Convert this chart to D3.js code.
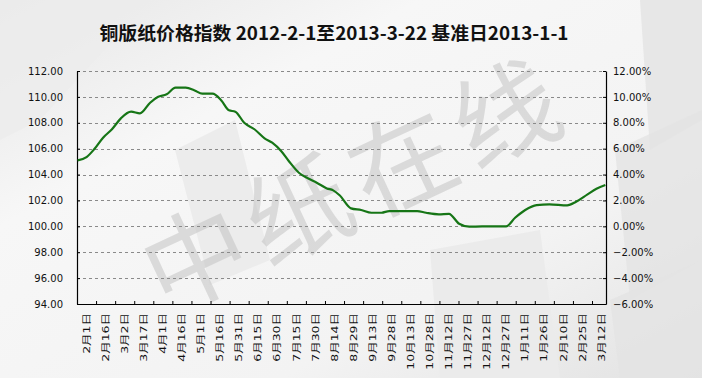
<!DOCTYPE html>
<html>
<head>
<meta charset="utf-8">
<script src="https://cdn.jsdelivr.net/npm/d3@7"></script>
<style>
  html, body { margin: 0; padding: 0; background: #fff; }
  svg { display: block; }
</style>
</head>
<body>
<div id="chart"></div>
<script>
//// data
var title = "铜版纸价格指数 2012-2-1至2013-3-22 基准日2013-1-1";

var dates = ["2012-02-01","2012-02-08","2012-02-14","2012-02-21","2012-02-28","2012-03-06","2012-03-14",
  "2012-03-21","2012-03-29","2012-04-04","2012-04-11","2012-04-18","2012-04-26","2012-05-03","2012-05-09",
  "2012-05-17","2012-05-24","2012-05-30","2012-06-04","2012-06-11","2012-06-19","2012-06-27","2012-07-03",
  "2012-07-10","2012-07-16","2012-07-24","2012-07-31","2012-08-07","2012-08-15","2012-08-20","2012-08-25",
  "2012-09-03","2012-09-11","2012-09-19","2012-09-27","2012-10-03","2012-10-12","2012-10-25","2012-11-01",
  "2012-11-11","2012-11-19","2012-11-27","2012-12-05","2012-12-15","2013-01-03","2013-01-10","2013-01-18",
  "2013-01-27","2013-02-06","2013-02-20","2013-02-27","2013-03-08","2013-03-15","2013-03-22"];
var values = [105.1,105.35,105.95,106.85,107.5,108.34,108.86,
  108.73,109.55,109.99,110.2,110.71,110.71,110.5,110.25,
  110.25,109.73,108.96,108.86,108.0,107.5,106.8,106.46,
  105.82,105.05,104.14,103.71,103.37,102.93,102.78,102.4,
  101.39,101.26,101.05,101.05,101.18,101.18,101.18,101.05,
  100.93,100.97,100.2,99.97,100.0,100.0,100.66,101.26,
  101.64,101.7,101.62,101.9,102.47,102.9,103.19];

var yTicks = [94, 96, 98, 100, 102, 104, 106, 108, 110, 112];
var pctTicks = [-6, -4, -2, 0, 2, 4, 6, 8, 10, 12];
var xTickLabels = ["2月1日","2月16日","3月2日","3月17日","4月1日","4月16日","5月1日","5月16日","5月31日",
  "6月15日","6月30日","7月15日","7月30日","8月14日","8月29日","9月13日","9月28日","10月13日","10月28日",
  "11月12日","11月27日","12月12日","12月27日","1月11日","1月26日","2月10日","2月25日","3月12日"];

//// chart
var W = 702, H = 378;
var margin = {top: 71, right: 96, bottom: 74, left: 77},
    width = W - margin.left - margin.right,
    height = H - margin.top - margin.bottom;

var parse = d3.utcParse("%Y-%m-%d");
var start = parse("2012-02-01"), end = d3.utcDay.offset(parse("2013-03-22"), 1);
var DAY = 86400000;

var svg = d3.select("#chart").append("svg")
    .attr("width", W)
    .attr("height", H);

// background
var defs = svg.append("defs");
var bg = defs.append("linearGradient").attr("id", "bg")
    .attr("x1", "0").attr("y1", "0").attr("x2", "1").attr("y2", "1");
bg.append("stop").attr("offset", "0").attr("stop-color", "#e6e6e6");
bg.append("stop").attr("offset", "0.3").attr("stop-color", "#f7f7f7");
bg.append("stop").attr("offset", "0.7").attr("stop-color", "#f3f3f3");
bg.append("stop").attr("offset", "1").attr("stop-color", "#e2e2e2");
svg.append("rect").attr("width", W).attr("height", H).attr("fill", "url(#bg)");

// pale decoration blocks
var blocks = [
  [[640,0],[702,0],[702,120],[650,150]],
  [[615,150],[702,110],[702,260],[630,300]],
  [[610,300],[702,260],[702,378],[620,378]],
  [[0,0],[150,0],[40,120],[0,140]]
];
svg.append("g").selectAll("path").data(blocks).join("path")
    .attr("d", d => "M" + d.join("L") + "Z")
    .attr("fill", (d, i) => i == 3 ? "#ececec" : "#e3e3e3")
    .attr("opacity", 0.8);
svg.append("path")
    .attr("d", "M430,250L540,230L560,378L440,378Z")
    .attr("fill", "#ebebeb");
svg.append("path")
    .attr("d", "M175,150L235,120L270,260L210,285Z")
    .attr("fill", "#ececec");

// watermark
svg.append("text")
    .attr("transform", "translate(356,186) rotate(-25)")
    .attr("text-anchor", "middle")
    .attr("dy", "0.35em")
    .attr("font-family", "'Noto Sans CJK SC'")
    .attr("font-size", 104)
    .attr("letter-spacing", 10)
    .attr("fill", "#c4c4c4")
    .attr("opacity", 0.55)
    .text("中纸在线");

// title
svg.append("text")
    .attr("x", 334).attr("y", 40)
    .attr("text-anchor", "middle")
    .attr("font-family", "'Noto Sans CJK SC'")
    .attr("font-weight", "bold")
    .attr("font-size", 18)
    .attr("textLength", 469)
    .attr("lengthAdjust", "spacingAndGlyphs")
    .attr("fill", "#111")
    .text(title);

var g = svg.append("g")
    .attr("transform", "translate(" + margin.left + "," + margin.top + ")");

var xScale = d3.scaleUtc().domain([start, end]).range([0, width]);
var yScale = d3.scaleLinear().domain([94, 112]).range([height, 0]);
var pScale = d3.scaleLinear().domain([-6, 12]).range([height, 0]);

// grid
g.append("g").selectAll("line").data(yTicks.filter(d => d > 94)).join("line")
    .attr("x1", 0).attr("x2", width)
    .attr("y1", d => Math.round(yScale(d)) + 0.5)
    .attr("y2", d => Math.round(yScale(d)) + 0.5)
    .attr("stroke", "#8a8a8a")
    .attr("stroke-dasharray", "3,3");

// axes
var tickFont = "'DejaVu Sans', 'Noto Sans CJK SC'";

var yAxis = g.append("g")
    .call(d3.axisLeft(yScale).tickValues(yTicks).tickSizeInner(-3).tickSizeOuter(0)
      .tickPadding(14).tickFormat(d3.format(".2f")));
var pAxis = g.append("g")
    .attr("transform", "translate(" + width + ",0)")
    .call(d3.axisRight(pScale).tickValues(pctTicks).tickSizeInner(-3).tickSizeOuter(0)
      .tickPadding(7).tickFormat(d => d3.format(".2f")(d) + "%"));

var xTickDates = xTickLabels.map((d, i) => d3.utcDay.offset(start, i * 15));
var xAxis = g.append("g")
    .attr("transform", "translate(0," + height + ")")
    .call(d3.axisBottom(xScale).tickValues(xTickDates.slice(1)).tickSizeInner(-3).tickSizeOuter(0)
      .tickFormat(""));

[yAxis, pAxis, xAxis].forEach(function (a) {
  a.select(".domain").attr("stroke", "#000").attr("stroke-width", 1.2);
  a.selectAll(".tick line").attr("stroke", "#000");
  a.selectAll("text").attr("font-family", tickFont).attr("font-size", 10).attr("fill", "#111");
});

// rotated date labels
g.append("g").selectAll("text").data(xTickDates).join("text")
    .attr("transform", (d, i) => "translate(" + xScale(new Date(+d + 7.5 * DAY)) + "," + (height + 9) +
      ") rotate(-90) scale(1,0.7)")
    .attr("text-anchor", "end")
    .attr("dy", "0.36em")
    .attr("font-family", tickFont)
    .attr("font-size", 12.5)
    .attr("fill", "#111")
    .text((d, i) => xTickLabels[i]);

//// line
var line = d3.line()
    .x((d, i) => xScale(new Date(+parse(dates[i]) + DAY / 2)))
    .y(d => yScale(d))
    .curve(d3.curveMonotoneX);

g.append("path")
    .datum(values)
    .attr("fill", "none")
    .attr("stroke", "#167516")
    .attr("stroke-width", 2.2)
    .attr("stroke-linejoin", "round")
    .attr("d", line);
</script>
</body>
</html>
